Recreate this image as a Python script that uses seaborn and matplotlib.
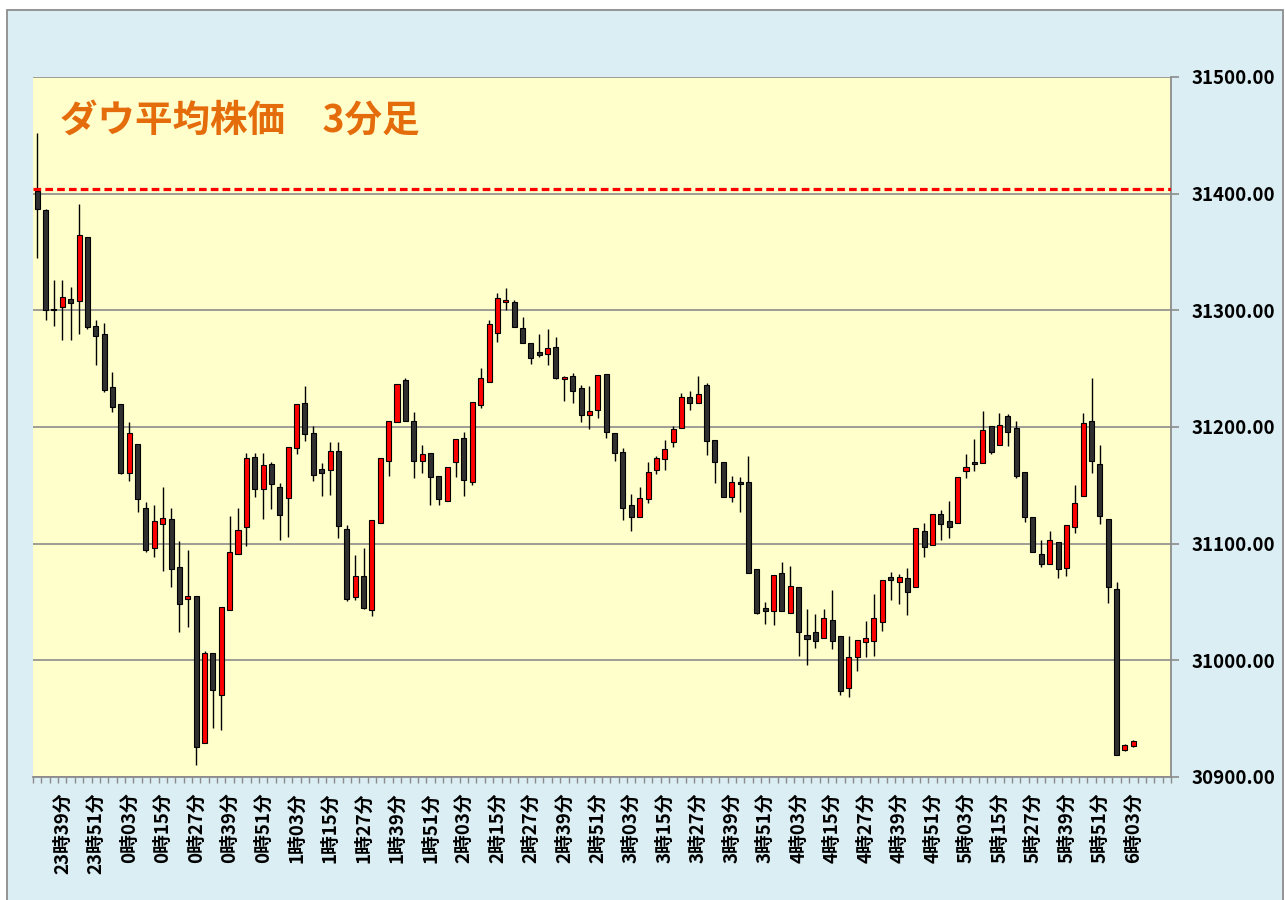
import numpy as np
import pandas as pd
import matplotlib
matplotlib.use("Agg")
import matplotlib.pyplot as plt
from matplotlib.patches import Rectangle
import seaborn as sns

# ダウ平均 3分足 (23時30分〜6時03分, 132本)
opens = [31402, 31386, 31301, 31303, 31310, 31308, 31363, 31287, 31280, 31234,
         31220, 31161, 31185, 31131, 31096, 31117, 31121, 31080, 31053, 31055,
         30929, 31006, 30970, 31043, 31091, 31114, 31174, 31147, 31168, 31149,
         31139, 31182, 31221, 31195, 31164, 31163, 31179, 31113, 31054, 31072,
         31043, 31118, 31171, 31204, 31240, 31205, 31171, 31178, 31158, 31137,
         31170, 31191, 31153, 31219, 31239, 31281, 31307, 31307, 31285, 31272,
         31264, 31263, 31269, 31241, 31244, 31233, 31210, 31215, 31245, 31195,
         31179, 31133, 31123, 31138, 31163, 31173, 31187, 31199, 31226, 31221,
         31236, 31189, 31170, 31140, 31153, 31153, 31078, 31045, 31042, 31075,
         31041, 31063, 31022, 31024, 31019, 31035, 31021, 30976, 31003, 31016,
         31017, 31033, 31071, 31067, 31071, 31063, 31111, 31099, 31125, 31119,
         31118, 31162, 31170, 31169, 31201, 31185, 31209, 31199, 31161, 31123,
         31091, 31083, 31101, 31079, 31114, 31141, 31205, 31168, 31121, 31061,
         30923, 30927]
highs = [31452, 31387, 31326, 31326, 31320, 31391, 31363, 31292, 31289, 31247,
         31220, 31204, 31185, 31136, 31133, 31149, 31131, 31102, 31095, 31055,
         31008, 31006, 31046, 31124, 31131, 31178, 31178, 31178, 31170, 31152,
         31183, 31220, 31235, 31201, 31169, 31187, 31187, 31116, 31090, 31096,
         31120, 31173, 31205, 31237, 31242, 31213, 31185, 31178, 31158, 31166,
         31190, 31196, 31221, 31251, 31292, 31315, 31319, 31309, 31294, 31272,
         31280, 31284, 31277, 31244, 31246, 31236, 31235, 31245, 31245, 31195,
         31182, 31143, 31149, 31170, 31175, 31189, 31201, 31229, 31231, 31244,
         31238, 31189, 31170, 31158, 31157, 31175, 31078, 31050, 31073, 31084,
         31081, 31063, 31044, 31040, 31044, 31060, 31021, 31021, 31017, 31034,
         31057, 31069, 31076, 31074, 31079, 31113, 31118, 31125, 31129, 31137,
         31157, 31177, 31190, 31214, 31201, 31212, 31211, 31205, 31161, 31123,
         31103, 31111, 31101, 31116, 31150, 31212, 31242, 31185, 31121, 31067,
         30928, 30932]
lows = [31345, 31292, 31287, 31275, 31275, 31280, 31284, 31253, 31230, 31213,
        31160, 31154, 31127, 31093, 31089, 31077, 31063, 31024, 31029, 30910,
        30929, 30942, 30940, 31043, 31091, 31098, 31140, 31121, 31130, 31103,
        31106, 31177, 31188, 31154, 31141, 31142, 31105, 31051, 31052, 31044,
        31038, 31118, 31158, 31204, 31205, 31156, 31161, 31133, 31133, 31137,
        31157, 31141, 31150, 31216, 31239, 31273, 31300, 31286, 31272, 31254,
        31260, 31253, 31241, 31222, 31221, 31204, 31198, 31208, 31191, 31171,
        31120, 31111, 31123, 31135, 31160, 31163, 31183, 31199, 31215, 31221,
        31176, 31152, 31140, 31136, 31127, 31075, 31040, 31031, 31030, 31042,
        31041, 31004, 30996, 31011, 31019, 31010, 30970, 30969, 30991, 31003,
        31004, 31025, 31052, 31048, 31039, 31063, 31089, 31099, 31103, 31105,
        31118, 31156, 31162, 31169, 31177, 31185, 31184, 31156, 31119, 31093,
        31080, 31083, 31071, 31072, 31109, 31141, 31161, 31117, 31049, 30919,
        30922, 30926]
closes = [31387, 31300, 31300, 31311, 31306, 31365, 31286, 31278, 31232, 31217,
          31161, 31195, 31138, 31095, 31119, 31122, 31078, 31048, 31055, 30926,
          31006, 30975, 31046, 31093, 31112, 31173, 31147, 31167, 31151, 31125,
          31183, 31220, 31194, 31159, 31161, 31179, 31115, 31053, 31072, 31045,
          31120, 31173, 31205, 31237, 31205, 31171, 31177, 31157, 31138, 31166,
          31190, 31155, 31221, 31242, 31288, 31311, 31309, 31286, 31272, 31259,
          31262, 31268, 31242, 31243, 31231, 31210, 31214, 31245, 31196, 31178,
          31131, 31123, 31139, 31161, 31173, 31181, 31198, 31226, 31221, 31228,
          31188, 31170, 31140, 31153, 31151, 31075, 31041, 31042, 31073, 31042,
          31064, 31024, 31018, 31017, 31036, 31017, 30974, 31003, 31017, 31019,
          31036, 31069, 31069, 31071, 31059, 31113, 31097, 31125, 31117, 31114,
          31157, 31166, 31168, 31197, 31179, 31202, 31196, 31158, 31123, 31093,
          31083, 31103, 31078, 31116, 31135, 31203, 31171, 31124, 31063, 30919,
          30927, 30931]

# 前日終値ライン
ref_price = 31404

# 横軸ラベル（12分ごと）
tick_labels = ["23時39分", "23時51分",
               "0時03分", "0時15分", "0時27分", "0時39分", "0時51分",
               "1時03分", "1時15分", "1時27分", "1時39分", "1時51分",
               "2時03分", "2時15分", "2時27分", "2時39分", "2時51分",
               "3時03分", "3時15分", "3時27分", "3時39分", "3時51分",
               "4時03分", "4時15分", "4時27分", "4時39分", "4時51分",
               "5時03分", "5時15分", "5時27分", "5時39分", "5時51分",
               "6時03分"]
n_slots = 136          # 6時15分までの枠
y_ticks = [30900, 31000, 31100, 31200, 31300, 31400, 31500]

sns.set_theme(style="white")
plt.rcParams['font.family'] = ['Noto Sans CJK JP', 'DejaVu Sans']
plt.rcParams['axes.unicode_minus'] = False

df = pd.DataFrame({"pos": np.arange(len(opens)), "open": opens, "high": highs,
                   "low": lows, "close": closes})
df["body_low"] = df[["open", "close"]].min(axis=1)
df["body_h"] = (df["close"] - df["open"]).abs().clip(lower=1.5)
df["dir"] = np.where(df["close"] >= df["open"], "up", "down")

fig = plt.figure(figsize=(12.85, 9), dpi=100)
fig.patch.set_facecolor("white")
fig.patches.append(Rectangle((7 / 1285, -0.05), 1276 / 1285, 0.05 + 890 / 900,
                             transform=fig.transFigure, facecolor="#DAEEF3",
                             edgecolor="#8C8C8C", linewidth=1.3, zorder=-1))
ax = fig.add_axes([33 / 1285, 123 / 900, 1138 / 1285, 700 / 900])
ax.set_facecolor("#FFFFCC")

# ヒゲ
ax.vlines(df["pos"], df["low"], df["high"], color="black", linewidth=1.0, zorder=2)

# 実体（陽線=赤, 陰線=濃灰）
for d, col in [("up", "#FF0000"), ("down", "#303030")]:
    sub = df[df["dir"] == d].sort_values("pos")
    sns.barplot(data=sub, x="pos", y="body_h", bottom=sub["body_low"].to_numpy(),
                native_scale=True, width=0.6, color=col, saturation=1,
                edgecolor="black", linewidth=0.8, errorbar=None, ax=ax, zorder=3)

ax.axhline(ref_price, color="#FF0000", linestyle=(0, (2.4, 1.3)), linewidth=2.3, zorder=4)

ax.set_xlim(-0.5, n_slots - 0.5)
ax.set_ylim(y_ticks[0], y_ticks[-1])
ax.set_xlabel("")
ax.set_ylabel("")

ax.yaxis.tick_right()
ax.set_yticks(y_ticks)
ax.set_yticklabels([f"{v:.2f}" for v in y_ticks])
ax.yaxis.grid(True, color="#8C8C8C", linewidth=1.2)
ax.set_axisbelow(True)
ax.tick_params(axis="y", direction="out", length=6, width=1.2, color="#8C8C8C",
               pad=9, labelsize=13.5, labelcolor="black")
for lab in ax.get_yticklabels():
    lab.set_fontweight("bold")

label_pos = [3 + 4 * k for k in range(len(tick_labels))]
ax.set_xticks(label_pos)
ax.set_xticklabels(tick_labels, rotation=90, fontsize=13.5, fontweight="bold",
                   color="black", va="top", ha="center")
ax.set_xticks(np.arange(-0.5, n_slots, 1.0), minor=True)
ax.tick_params(axis="x", which="major", length=0, pad=11)
ax.tick_params(axis="x", which="minor", direction="out", length=4, width=1.0,
               color="#8C8C8C", bottom=True)

for side in ["top", "left"]:
    ax.spines[side].set_visible(False)
for side in ["right", "bottom"]:
    ax.spines[side].set_color("#8C8C8C")
    ax.spines[side].set_linewidth(1.3)

ax.text(0.024, 0.938, "ダウ平均株価　3分足", transform=ax.transAxes,
        fontsize=27, fontweight="bold", color="#E46C0A", ha="left", va="center",
        zorder=5)

fig.savefig("out.png", dpi=100)
plt.close(fig)
